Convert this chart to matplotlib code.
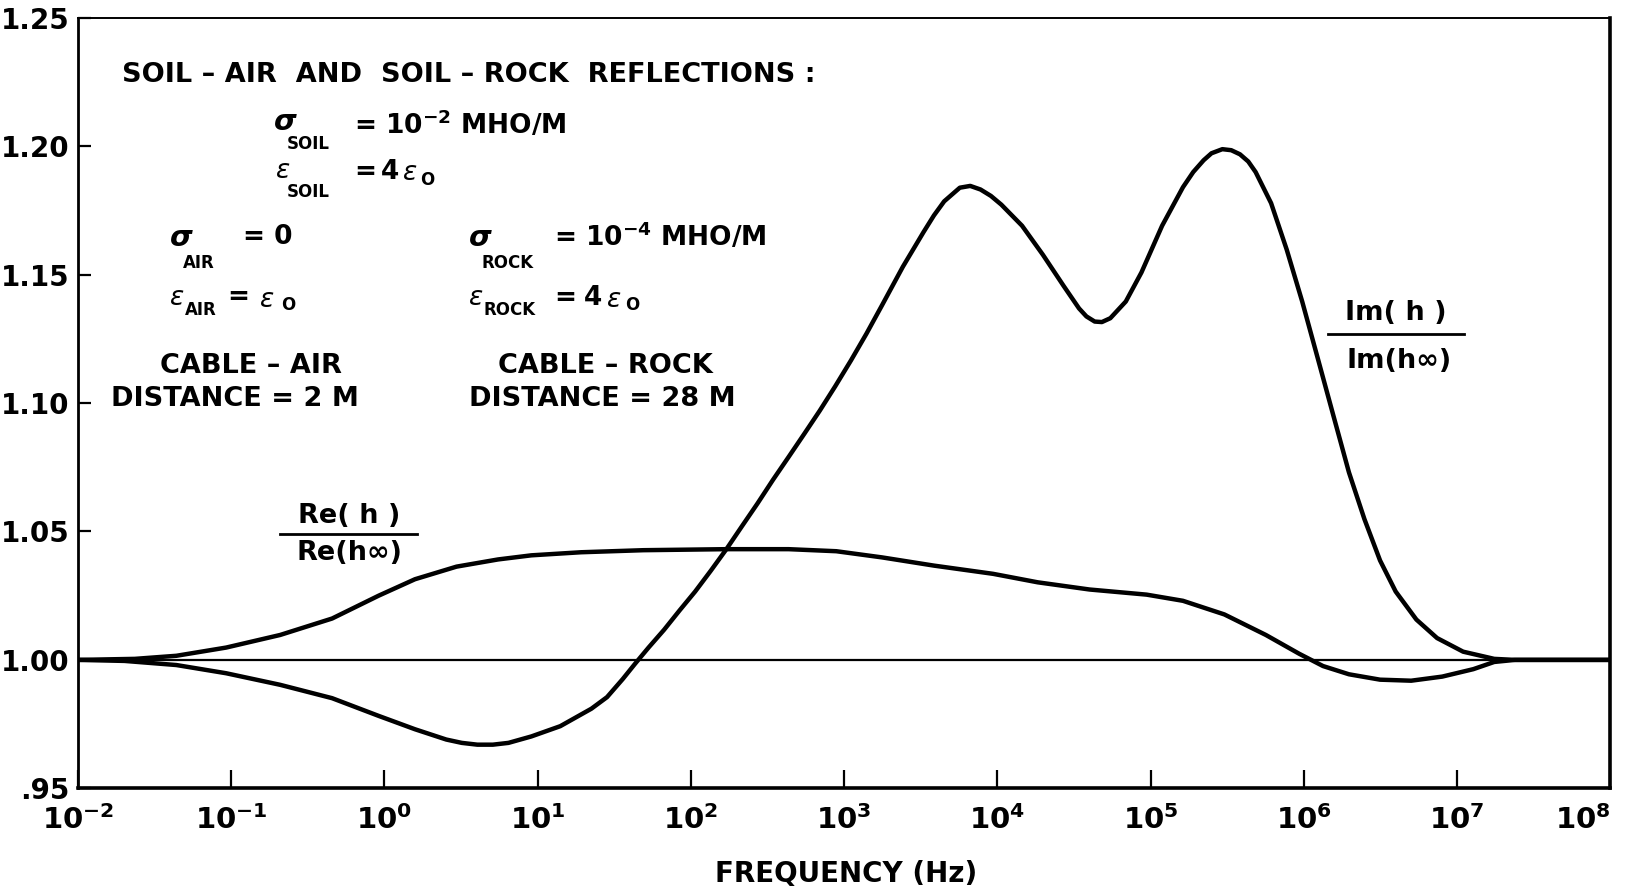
import matplotlib
matplotlib.use("Agg")
import matplotlib.pyplot as plt
import numpy as np

plt.rcParams["font.family"] = ["DejaVu Sans"]
plt.rcParams["mathtext.fontset"] = "custom"
plt.rcParams["mathtext.rm"] = "DejaVu Sans:bold"
plt.rcParams["mathtext.bf"] = "DejaVu Sans:bold"

# log10(frequency) and ratio values
im_logf = [-2.0, -1.695, -1.357, -1.032, -0.680, -0.341, -0.037, 0.200, 0.404, 0.505,
           0.607, 0.708, 0.810, 0.959, 1.148, 1.351, 1.453, 1.555, 1.636, 1.724,
           1.825, 1.927, 2.028, 2.130, 2.232, 2.333, 2.435, 2.536, 2.638, 2.739,
           2.841, 2.942, 3.044, 3.146, 3.247, 3.315, 3.383, 3.518, 3.586, 3.653,
           3.755, 3.823, 3.890, 3.958, 4.026, 4.161, 4.297, 4.432, 4.533, 4.581,
           4.635, 4.682, 4.737, 4.838, 4.940, 5.075, 5.211, 5.278, 5.346, 5.397,
           5.468, 5.526, 5.583, 5.637, 5.685, 5.786, 5.888, 5.989, 6.091, 6.192,
           6.294, 6.395, 6.497, 6.599, 6.734, 6.869, 7.039, 7.242, 7.377, 8.0]
im_vals = [1.000, 0.9996, 0.998, 0.9948, 0.9903, 0.9851, 0.9782, 0.973, 0.969, 0.9677,
           0.967, 0.967, 0.9677, 0.9702, 0.9742, 0.981, 0.9855, 0.9925, 0.9985, 1.0048,
           1.0117, 1.0193, 1.0266, 1.0347, 1.0431, 1.052, 1.0609, 1.0701, 1.079, 1.0879,
           1.0970, 1.1065, 1.1165, 1.1270, 1.1380, 1.1455, 1.1530, 1.1665, 1.1730, 1.1785,
           1.1838, 1.1845, 1.1831, 1.1806, 1.1772, 1.1690, 1.1577, 1.1456, 1.1368, 1.1337,
           1.1317, 1.1315, 1.1330, 1.1395, 1.1508, 1.1690, 1.1840, 1.1899, 1.1945, 1.1972,
           1.1988, 1.1984, 1.1968, 1.1940, 1.1899, 1.1778, 1.1597, 1.1395, 1.1173, 1.0952,
           1.073, 1.0548, 1.0387, 1.0266, 1.0157, 1.0085, 1.0032, 1.0004, 1.000, 1.000]

re_logf = [-2.0, -1.628, -1.357, -1.032, -0.680, -0.341, -0.037, 0.200, 0.471, 0.742,
           0.959, 1.284, 1.690, 2.232, 2.638, 2.949, 3.247, 3.586, 3.972, 4.263,
           4.601, 4.974, 5.211, 5.481, 5.752, 5.969, 6.125, 6.294, 6.497, 6.700,
           6.903, 7.106, 7.242, 7.377, 8.0]
re_vals = [1.000, 1.0004, 1.0016, 1.0048, 1.0097, 1.0161, 1.025, 1.0314, 1.0363, 1.0391,
           1.0407, 1.0419, 1.0427, 1.0431, 1.0431, 1.0423, 1.0399, 1.0367, 1.0335, 1.0302,
           1.0274, 1.0254, 1.0230, 1.0177, 1.0097, 1.0024, 0.9976, 0.9944, 0.9923, 0.9919,
           0.9935, 0.9964, 0.9992, 1.000, 1.000]

x_decades = list(range(-2, 9))
y_ticks = [0.95, 1.00, 1.05, 1.10, 1.15, 1.20, 1.25]
y_labels = [".95", "1.00", "1.05", "1.10", "1.15", "1.20", "1.25"]

W, H = 1568.0, 858.0  # reference layout units


def fx(x):
    return x / W


def fy(y):
    return 1 - y / H


fig = plt.figure(figsize=(16.27, 8.90), dpi=100)
ax = fig.add_axes([fx(75), fy(760), fx(1552) - fx(75), fy(17) - fy(760)])

ax.plot(10.0 ** np.array(im_logf), im_vals, color="black", lw=3.2,
        solid_joinstyle="round", solid_capstyle="round")
ax.plot(10.0 ** np.array(re_logf), re_vals, color="black", lw=3.2,
        solid_joinstyle="round", solid_capstyle="round")
ax.axhline(1.0, color="black", lw=1.6)

ax.set_xscale("log")
ax.set_xlim(1e-2, 1e8)
ax.set_ylim(0.95, 1.25)
ax.set_xticks([10.0 ** d for d in x_decades])
ax.set_xticklabels([r"$\mathregular{10^{%d}}$" % d for d in x_decades])
ax.minorticks_off()
ax.set_yticks(y_ticks)
ax.set_yticklabels(y_labels)
ax.tick_params(axis="x", direction="in", length=13, width=1.6, pad=12,
               labelsize=21)
ax.tick_params(axis="y", direction="in", length=9, width=1.6, pad=6,
               labelsize=20)
for lab in ax.get_yticklabels() + ax.get_xticklabels():
    lab.set_fontweight("bold")
ax.get_xticklabels()[-1].set_horizontalalignment("right")
ax.spines["left"].set_linewidth(2.0)
ax.spines["bottom"].set_linewidth(2.6)
ax.spines["right"].set_linewidth(2.6)
ax.spines["top"].set_linewidth(1.4)

fig.text(fx(815), fy(843), "FREQUENCY (Hz)", ha="center", va="center",
         fontsize=20, fontweight="bold")

kw = dict(fontsize=19.5, fontweight="bold", va="center", color="black")
kp = dict(fontsize=19, fontweight="bold", va="center", color="black")
sub = dict(fontsize=12, fontweight="bold", va="center", color="black")
sig = dict(fontsize=21, fontweight="bold", fontstyle="italic", va="center", color="black")
eps = dict(fontsize=19, fontstyle="italic", va="center", color="black")
fig.text(fx(118), fy(72), "SOIL \u2013 AIR  AND  SOIL \u2013 ROCK  REFLECTIONS :", ha="left", **kw)

# soil
fig.text(fx(264), fy(118), "\u03c3", ha="left", **sig)
fig.text(fx(276), fy(139), "SOIL", ha="left", **sub)
fig.text(fx(341), fy(120), r"= 10$^{-2}$ MHO/M", ha="left", **kp)
fig.text(fx(266), fy(165), "\u03b5", ha="left", **eps)
fig.text(fx(276), fy(185), "SOIL", ha="left", **sub)
fig.text(fx(341), fy(166), "=", ha="left", **kp)
fig.text(fx(367), fy(166), "4", ha="left", **kp)
fig.text(fx(388), fy(167), "\u03b5", ha="left", **eps)
fig.text(fx(405), fy(174), "O", ha="left", **sub)

# air
fig.text(fx(164), fy(229), "\u03c3", ha="left", **sig)
fig.text(fx(176), fy(254), "AIR", ha="left", **sub)
fig.text(fx(234), fy(228), "= 0", ha="left", **kp)
fig.text(fx(164), fy(287), "\u03b5", ha="left", **eps)
fig.text(fx(178), fy(299), "AIR", ha="left", **sub)
fig.text(fx(219), fy(286), "=", ha="left", **kp)
fig.text(fx(251), fy(289), "\u03b5", ha="left", **eps)
fig.text(fx(271), fy(294), "O", ha="left", **sub)

# rock
fig.text(fx(452), fy(229), "\u03c3", ha="left", **sig)
fig.text(fx(464), fy(254), "ROCK", ha="left", **sub)
fig.text(fx(534), fy(228), r"= 10$^{-4}$ MHO/M", ha="left", **kp)
fig.text(fx(452), fy(287), "\u03b5", ha="left", **eps)
fig.text(fx(466), fy(299), "ROCK", ha="left", **sub)
fig.text(fx(534), fy(287), "=", ha="left", **kp)
fig.text(fx(563), fy(287), "4", ha="left", **kp)
fig.text(fx(585), fy(289), "\u03b5", ha="left", **eps)
fig.text(fx(602), fy(294), "O", ha="left", **sub)

fig.text(fx(242), fy(353), "CABLE \u2013 AIR", ha="center", **kw)
fig.text(fx(226), fy(385), "DISTANCE = 2 M", ha="center", **kw)
fig.text(fx(583), fy(353), "CABLE \u2013 ROCK", ha="center", **kw)
fig.text(fx(580), fy(385), "DISTANCE = 28 M", ha="center", **kw)

# curve labels
fig.text(fx(337), fy(497), "Re( h )", ha="center", **kw)
fig.text(fx(337), fy(533), "Re(h\u221e)", ha="center", **kw)
fig.add_artist(plt.Line2D([fx(270), fx(402)], [fy(515), fy(515)], color="black", lw=2))
fig.text(fx(1345), fy(302), "Im( h )", ha="center", **kw)
fig.text(fx(1348), fy(348), "Im(h\u221e)", ha="center", **kw)
fig.add_artist(plt.Line2D([fx(1280), fx(1411)], [fy(322), fy(322)], color="black", lw=2))

plt.savefig("out.png", dpi=100)
